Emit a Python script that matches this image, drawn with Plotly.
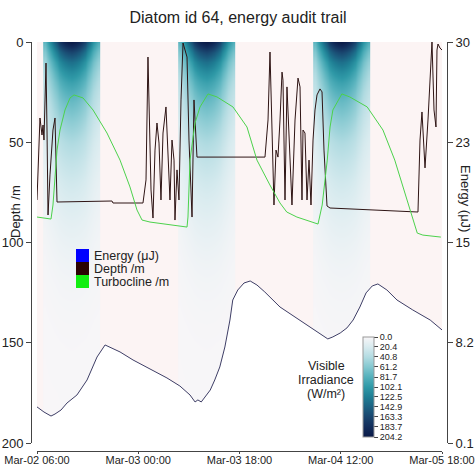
import plotly.graph_objects as go
import pandas as pd

# ---------------- data ----------------
START = pd.Timestamp("2024-03-02 06:00")

# Energy of the cell (uJ), right axis
energy_hours = [0, 1.24, 2.49, 3.2, 4.27, 5.33, 7.1, 8.9, 10.67, 12.1,
                14.76, 17.07, 20.09, 23.1, 25.4, 27.2, 28.1, 28.6, 29.2, 29.9,
                30.8, 31.6, 32.5, 33.4, 34.3, 34.8, 35.7, 36.8, 37.9, 39.1,
                40.5, 43.2, 46.2, 49.1, 50.7, 51.7, 52.6, 53.9, 55.1, 56.2,
                57.4, 58.5, 59.6, 60.6, 62.2, 64.0, 66.8, 69.9, 72.0]
energy_uj = [2.79, 2.41, 2.11, 2.26, 2.56, 3.08, 3.68, 4.80, 6.51, 7.41,
             6.89, 6.29, 5.62, 4.95, 4.35, 3.68, 3.16, 3.31, 3.16, 3.53,
             4.05, 4.80, 5.77, 7.26, 9.27, 10.76, 11.51, 12.03, 12.18, 11.88,
             11.36, 10.24, 9.42, 8.60, 8.15, 7.86, 8.01, 8.30, 8.68, 9.27,
             10.24, 11.29, 11.81, 11.96, 11.51, 10.76, 10.02, 9.27, 8.53]

# Depth of the cell (m)
depth_hours = [0, 0.18, 0.53, 0.89, 1.07, 1.24, 1.6, 1.78, 1.96, 2.31, 2.67, 2.84, 3.2, 3.56,
               13.33, 13.51, 18.84,
               19.38, 19.73, 20.27, 20.62, 20.98, 21.33, 21.69, 22.04, 22.4, 22.93,
               23.29, 23.64, 24.0, 24.36, 24.53, 24.89, 25.24, 25.6, 25.96, 26.31,
               26.67, 27.02, 27.38, 27.56, 27.91, 28.27, 28.44,
               40.53,
               41.07, 41.42, 41.78, 42.13, 42.49, 42.84, 43.2, 43.56, 43.73, 44.09,
               44.44, 44.8, 44.98, 45.33, 45.87, 46.4, 46.76, 47.11, 47.29, 47.64,
               48.0, 48.36, 48.71, 49.07, 49.42, 49.78, 50.31, 50.67, 51.02, 51.56, 52.09,
               60.98, 67.73,
               68.09, 68.44, 68.98, 69.51, 70.22, 70.58, 70.93, 71.11, 71.29, 71.64, 72.0]
depth_m = [78.8, 60.3, 37.9, 46.4, 41.4, 48.9, 10.5, 43.9, 86.3, 66.3, 52.4, 43.9, 37.9, 79.8,
           79.3, 80.3, 80.3,
           68.8, 7.5, 73.8, 87.8, 53.9, 40.4, 50.4, 78.8, 45.4, 32.4,
           55.4, 78.8, 48.9, 58.9, 88.8, 63.8, 78.8, 28.9, 0.5, 4.0,
           7.5, 48.9, 78.8, 87.3, 28.9, 48.9, 57.4,
           57.4,
           38.9, 5.0, 48.9, 81.3, 53.9, 57.4, 38.9, 15.0, 19.0, 78.8,
           22.4, 43.9, 52.4, 81.3, 38.9, 18.0, 22.4, 78.8, 43.9, 45.4,
           78.8, 58.9, 81.3, 48.9, 33.9, 26.4, 23.4, 24.9, 53.9, 81.8, 82.8,
           83.8, 84.8,
           48.9, 34.9, 62.8, 38.9, 0.0, 33.9, 42.4, 4.0, 1.0, 3.0, 4.0]

# Turbocline depth (m)
turbo_hours = [0, 2.49, 2.84, 3.2, 3.56, 4.09, 4.98, 5.87, 6.58, 8.18, 9.96, 12.44,
               14.76, 16.53, 17.78, 18.67, 20.09, 26.67, 26.84, 27.2, 28.09, 28.98,
               30.4, 32.0, 34.84, 37.33, 39.1, 41.4, 43.2, 44.4, 46.2, 49.96,
               50.7, 51.2, 51.6, 52.1, 52.6, 54.2, 55.6, 58.7, 61.5, 63.6,
               65.1, 66.7, 67.6, 68.6, 71.8]
turbo_m = [87.3, 88.3, 81.3, 66.3, 53.9, 43.9, 33.9, 27.9, 26.4, 27.9, 33.9, 45.4,
           58.9, 72.3, 83.8, 88.8, 89.8, 92.3, 87.3, 58.9, 40.4, 32.4,
           25.9, 27.4, 32.4, 42.4, 58.9, 71.3, 80.3, 84.8, 87.3, 90.8,
           81.3, 68.8, 58.9, 42.4, 33.9, 25.9, 27.4, 32.4, 43.9, 58.9,
           72.3, 87.3, 95.3, 96.3, 97.3]

# Visible irradiance (W/m^2): surface value through the day, relative profile with depth
day_start_hours = [0, 24, 48]
irr_offsets_h = [1.4, 2.0, 2.5, 3.0, 3.5, 4.0, 4.5, 5.0, 5.5, 6.0,
                 6.5, 7.0, 7.5, 8.0, 8.5, 9.0, 9.5, 10.0, 10.8]
surface_irr = [78, 100, 120, 140, 158, 173, 186, 195, 201, 204.2,
               202, 197, 189, 177, 163, 146, 127, 106, 84]
irr_depths = [0, 5, 10, 15, 20, 25, 30, 40, 50, 60, 70, 80, 90, 100, 110, 120, 130, 140,
              150, 175, 200]
irr_fraction = [1.0, 0.8, 0.65, 0.55, 0.47, 0.41, 0.36, 0.28, 0.21, 0.16, 0.12, 0.09,
                0.065, 0.045, 0.03, 0.02, 0.013, 0.008, 0.005, 0.002, 0.001]

cbar_ticks = [0.0, 20.4, 40.8, 61.2, 81.7, 102.1, 122.5, 142.9, 163.3, 183.7, 204.2]

x_tick_hours = [0, 18, 36, 54, 72]
x_tick_text = ["Mar-02 06:00", "Mar-03 00:00", "Mar-03 18:00", "Mar-04 12:00", "Mar-05 18:00"]
depth_ticks = [0, 50, 100, 150, 200]
energy_tick_vals = [30, 22.525, 15.05, 7.575, 0.1]
energy_tick_text = ["30", "23", "15", "8.2", "0.1"]

legend_names = ["Energy (μJ)", "Depth /m", "Turbocline /m"]
legend_colors = ["#0000ff", "#2b0303", "#11ee11"]

# ---------------- helpers ----------------
W, H = 476, 467


def ts(hours):
    return [START + pd.Timedelta(hours=h) for h in hours]


def px(x):
    return x / W


def py(y):
    return 1 - y / H


FONT = "Liberation Sans, Arial, sans-serif"

fig = go.Figure()

# irradiance heatmaps (one per day), drawn as negative values so the colour bar runs 0 at top
for d0 in day_start_hours:
    fig.add_trace(go.Heatmap(
        x=ts([d0 + o for o in irr_offsets_h]),
        y=irr_depths,
        z=[[-s * f for s in surface_irr] for f in irr_fraction],
        coloraxis="coloraxis",
        zsmooth="best",
        hoverinfo="skip",
        showlegend=False,
    ))

fig.add_trace(go.Scatter(
    x=ts(energy_hours), y=energy_uj, yaxis="y2", mode="lines",
    line=dict(color="#3e3e66", width=1), fill="tozeroy", fillcolor="#ffffff",
    name="Energy (μJ)", showlegend=False, hoverinfo="skip",
))
fig.add_trace(go.Scatter(
    x=ts(depth_hours), y=depth_m, mode="lines",
    line=dict(color="#2e1414", width=1), name="Depth /m", showlegend=False,
))
fig.add_trace(go.Scatter(
    x=ts(turbo_hours), y=turbo_m, mode="lines",
    line=dict(color="#4cd24c", width=1), name="Turbocline /m", showlegend=False,
))

colorscale = [[0.0, "#f8f6f8"], [0.1, "#d8ebef"], [0.2, "#b3dce2"], [0.3, "#84c8d0"],
              [0.4, "#55b1bc"], [0.5, "#2f99a7"], [0.6, "#1f7e94"], [0.7, "#1c6182"],
              [0.8, "#19456e"], [0.9, "#122d5b"], [1.0, "#0a1a47"]]

axis_common = dict(showline=True, linecolor="#444", linewidth=1, ticks="outside",
                   ticklen=5, tickcolor="#444", showgrid=False, zeroline=False,
                   automargin=False,
                   tickfont=dict(family=FONT, size=13, color="#222"))


def ann(text, x, y, size=13, angle=0, xanchor="center"):
    return dict(text=text, x=px(x), y=py(y), xref="paper", yref="paper", showarrow=False,
                xanchor=xanchor, yanchor="middle", textangle=angle,
                font=dict(family=FONT, size=size, color="#222"))


annotations = [
    ann("Depth /m", 15, 212, angle=-90),
    ann("Energy (μJ)", 466, 198, angle=90),
]
for txt, yy in zip(["Visible", "Irradiance", "(W/m²)"], [366, 380, 394]):
    annotations.append(ann(txt, 326, yy, size=12.5))

shapes = []
for i, (name, col) in enumerate(zip(legend_names, legend_colors)):
    top = 249 + 13 * i
    shapes.append(dict(type="rect", xref="paper", yref="paper", x0=px(76), x1=px(89),
                       y0=py(top + 13), y1=py(top), fillcolor=col, line=dict(width=0)))
    annotations.append(ann(name, 92, top + 6.5, size=12.5, xanchor="left"))

fig.update_layout(
    width=W, height=H,
    margin=dict(l=0, r=0, t=0, b=0, autoexpand=False),
    paper_bgcolor="white",
    plot_bgcolor="#fcf4f4",
    showlegend=False,
    font=dict(family=FONT, color="#222"),
    title=dict(text="Diatom id 64, energy audit trail", x=0.5, xanchor="center",
               y=py(17), yanchor="middle", automargin=False,
               font=dict(family=FONT, size=16, color="#222")),
    xaxis=dict(axis_common, type="date", domain=[px(37), px(442)],
               range=[START, START + pd.Timedelta(hours=72)],
               tickvals=ts(x_tick_hours), ticktext=x_tick_text,
               anchor="free", position=py(451), ticklen=2, ticklabelstandoff=-3,
               tickfont=dict(family=FONT, size=11, color="#222")),
    yaxis=dict(axis_common, range=[200, 0], domain=[py(443), py(42)],
               tickvals=depth_ticks, anchor="free", position=px(31)),
    yaxis2=dict(axis_common, range=[0.1, 30], overlaying="y", side="right",
                anchor="free", position=px(447),
                tickvals=energy_tick_vals, ticktext=energy_tick_text),
    coloraxis=dict(
        colorscale=colorscale, reversescale=True, cmin=-204.2, cmax=0,
        colorbar=dict(
            x=px(363), xanchor="left", xpad=0, y=py(437), yanchor="bottom", ypad=0,
            lenmode="pixels", len=100, thickness=11,
            outlinewidth=1, outlinecolor="#999",
            tickvals=[-v for v in cbar_ticks], ticktext=[f"{v:.1f}" for v in cbar_ticks],
            ticks="outside", ticklen=4, tickcolor="#444",
            tickfont=dict(family=FONT, size=9, color="#222"),
        ),
    ),
    annotations=annotations,
    shapes=shapes,
)

fig.write_html(
    "out.html",
    config={"displayModeBar": False},
    post_script="document.body.style.margin='0';document.body.style.padding='0';"
                "document.documentElement.style.overflow='hidden';",
)
